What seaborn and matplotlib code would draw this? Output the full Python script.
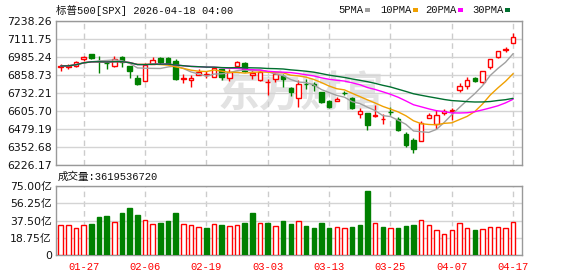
import numpy as np
import pandas as pd
import matplotlib
matplotlib.use("Agg")
import matplotlib.pyplot as plt
from matplotlib.patches import Rectangle
import seaborn as sns

# ---------------- data ----------------
dates = ["01-22", "01-23", "01-26", "01-27", "01-28", "01-29", "01-30", "02-02", "02-03", "02-04",
         "02-05", "02-06", "02-09", "02-10", "02-11", "02-12", "02-13", "02-17", "02-18", "02-19",
         "02-20", "02-23", "02-24", "02-25", "02-26", "02-27", "03-02", "03-03", "03-04", "03-05",
         "03-06", "03-09", "03-10", "03-11", "03-12", "03-13", "03-16", "03-17", "03-18", "03-19",
         "03-20", "03-23", "03-24", "03-25", "03-26", "03-27", "03-30", "03-31", "04-01", "04-02",
         "04-06", "04-07", "04-08", "04-09", "04-10", "04-13", "04-14", "04-15", "04-16", "04-17"]

opens = [6918, 6917, 6923, 6972, 7004, 6958, 6943, 6921, 6986, 6923,
         6836, 6820, 6935, 6975, 6978, 6958, 6833, 6822, 6862, 6862,
         6845, 6898, 6841, 6921, 6940, 6862, 6827, 6808, 6834, 6850,
         6766, 6700, 6795, 6792, 6740, 6676, 6676, 6733, 6700, 6587,
         6591, 6570, 6548, 6600, 6552, 6446, 6399, 6394, 6559, 6512,
         6590, 6606, 6752, 6782, 6838, 6810, 6912, 6982, 7036, 7081]
highs = [6935, 6935, 6954, 6991, 7006, 6991, 6958, 6991, 6990, 6925,
         6857, 6940, 6982, 6982, 6987, 6972, 6869, 6857, 6904, 6888,
         6916, 6902, 6898, 6955, 6947, 6893, 6885, 6832, 6872, 6869,
         6775, 6822, 6834, 6810, 6742, 6681, 6705, 6745, 6705, 6630,
         6593, 6646, 6587, 6634, 6563, 6457, 6418, 6533, 6590, 6611,
         6618, 6626, 6799, 6845, 6845, 6890, 6972, 7030, 7057, 7156]
lows = [6888, 6898, 6916, 6958, 6970, 6874, 6898, 6912, 6916, 6841,
        6787, 6818, 6933, 6935, 6935, 6826, 6799, 6775, 6860, 6841,
        6843, 6827, 6817, 6919, 6880, 6834, 6820, 6716, 6810, 6775,
        6711, 6634, 6763, 6747, 6665, 6625, 6674, 6718, 6620, 6559,
        6469, 6563, 6517, 6575, 6465, 6352, 6310, 6392, 6557, 6481,
        6577, 6540, 6740, 6763, 6810, 6796, 6900, 6975, 7017, 7081]
closes = [6922, 6924, 6947, 6984, 6980, 6954, 6940, 6968, 6951, 6888,
          6796, 6928, 6963, 6948, 6942, 6832, 6836, 6841, 6878, 6866,
          6905, 6845, 6881, 6947, 6890, 6876, 6881, 6812, 6869, 6834,
          6738, 6794, 6792, 6788, 6669, 6634, 6693, 6730, 6630, 6604,
          6505, 6575, 6552, 6597, 6474, 6364, 6340, 6524, 6575, 6580,
          6608, 6613, 6780, 6822, 6817, 6886, 6970, 7027, 7040, 7123]
# volume in 亿 (1e8)
volumes = [32.2, 32.2, 29.0, 32.2, 33.7, 41.3, 42.4, 35.5, 45.7, 51.1,
           43.5, 37.7, 33.7, 34.8, 37.0, 45.7, 33.7, 32.2, 30.1, 29.0,
           33.3, 32.6, 31.2, 32.2, 34.8, 45.7, 34.8, 34.8, 31.2, 37.0,
           33.7, 36.6, 31.5, 29.3, 34.8, 29.3, 30.4, 29.0, 30.4, 32.6,
           69.6, 34.8, 30.4, 29.0, 29.3, 31.5, 32.6, 37.7, 32.6, 26.8,
           22.8, 26.8, 34.8, 29.0, 27.2, 28.3, 30.1, 30.1, 29.0, 36.2]
last_volume = "3619536720"

price_ticks = [6226.17, 6352.68, 6479.19, 6605.70, 6732.21, 6858.73, 6985.24, 7111.75, 7238.26]
vol_ticks = [0, 18.75, 37.50, 56.25, 75.00]
vol_tick_labels = ["0", "18.75亿", "37.50亿", "56.25亿", "75.00亿"]
label_dates = ["01-27", "02-06", "02-19", "03-03", "03-13", "03-25", "04-07", "04-17"]
ma_windows = [5, 10, 20, 30]
ma_names = ["5PMA", "10PMA", "20PMA", "30PMA"]
ma_colors = ["#a0a0a0", "#f0a000", "#ff00ff", "#006f2f"]

title = "标普500[SPX] 2026-04-18 04:00"

# ---------------- build frame ----------------
df = pd.DataFrame({"date": dates, "open": opens, "high": highs, "low": lows,
                   "close": closes, "vol": volumes})
df["i"] = np.arange(len(df))
for w in ma_windows:
    df[f"ma{w}"] = df["close"].rolling(w, min_periods=1).mean()
df["up"] = df["close"] >= df["open"]
prev_close = df["close"].shift(1).fillna(df["open"])
df["vol_up"] = df["close"] >= prev_close

RED = "#ff0000"
GREEN = "#008000"

sns.set_theme(style="white")
plt.rcParams["font.family"] = ["DejaVu Sans", "Noto Sans CJK SC"]
plt.rcParams["axes.unicode_minus"] = False

W, H = 578, 276
fig = plt.figure(figsize=(W / 100, H / 100), dpi=100)
fig.patch.set_facecolor("white")

def ax_rect(l, t, r, b):
    return [l / W, 1 - b / H, (r - l) / W, (b - t) / H]

ax = fig.add_axes(ax_rect(56, 21, 522, 165))
axv = fig.add_axes(ax_rect(56, 186, 522, 255))

xlim = (-0.62, 60.15)
label_pos = [dates.index(d) for d in label_dates]

for a in (ax, axv):
    a.set_facecolor("white")
    a.set_xlim(*xlim)
    for s in a.spines.values():
        s.set_color("#999999")
        s.set_linewidth(1.0)
    a.set_xticks(label_pos)
    a.tick_params(axis="both", length=0, pad=3, labelsize=7.8, colors="#111111")
    a.grid(axis="y", color="#d4d4d4", linewidth=1.0, linestyle="-")
    a.grid(axis="x", color="#cccccc", linewidth=1.0, linestyle=(0, (4, 3)))
    a.set_axisbelow(True)

# ---------------- watermark ----------------
ax.text(0.525, 0.50, "东方财富", transform=ax.transAxes, ha="center", va="center",
        fontsize=30, fontweight="bold", fontstyle="italic", color="#e2e2e2",
        family=["Noto Sans CJK SC"], zorder=0.5)

# ---------------- candles ----------------
body_w = 0.6
for _, r in df.iterrows():
    col = RED if r["up"] else GREEN
    ax.vlines(r["i"], r["low"], r["high"], color=col, linewidth=1.0, zorder=2)
    bottom = min(r["open"], r["close"])
    height = max(abs(r["close"] - r["open"]), 1.2)
    ax.bar(r["i"], height, bottom=bottom, width=body_w,
           facecolor="white" if r["up"] else GREEN, edgecolor=col,
           linewidth=1.0, zorder=3)

for w, c in zip(ma_windows, ma_colors):
    sns.lineplot(data=df, x="i", y=f"ma{w}", ax=ax, color=c, linewidth=1.0,
                 legend=False, zorder=4)

ax.set_ylim(price_ticks[0], price_ticks[-1])
ax.set_yticks(price_ticks)
ax.set_yticklabels([f"{v:.2f}" for v in price_ticks])
ax.set_xticklabels([])
ax.set_xlabel("")
ax.set_ylabel("")

# ---------------- volume ----------------
for _, r in df.iterrows():
    col = RED if r["vol_up"] else GREEN
    axv.bar(r["i"], r["vol"], width=body_w,
            facecolor="white" if r["vol_up"] else GREEN, edgecolor=col,
            linewidth=1.0, zorder=3)
axv.set_ylim(0, 75)
axv.set_yticks(vol_ticks)
axv.set_yticklabels(vol_tick_labels)
axv.set_xticklabels(label_dates, color=RED, family=["Liberation Mono"], fontsize=7.6)
axv.tick_params(axis="x", pad=5)
axv.set_xlabel("")
axv.set_ylabel("")

# ---------------- texts ----------------
mono = ["Liberation Mono", "Noto Sans CJK SC"]
fig.text(56 / W, 1 - 10 / H, title, ha="left", va="center", fontsize=7.6,
         family=mono, color="#111111")
fig.text(58 / W, 1 - 177 / H, "成交量:" + last_volume, ha="left", va="center",
         fontsize=7.6, family=mono, color="#111111")

leg_x = [338, 380, 425, 472]
for x0, name, c in zip(leg_x, ma_names, ma_colors):
    fig.text(x0 / W, 1 - 10 / H, name, ha="left", va="center", fontsize=7.6,
             family=mono, color="#111111")
    sq_x = x0 + 6.2 * len(name) + 2
    fig.patches.append(Rectangle((sq_x / W, 1 - 11.5 / H), 5 / W, 3.5 / H,
                                 transform=fig.transFigure, facecolor=c,
                                 edgecolor="none"))

fig.savefig("out.png", dpi=100, facecolor="white")
